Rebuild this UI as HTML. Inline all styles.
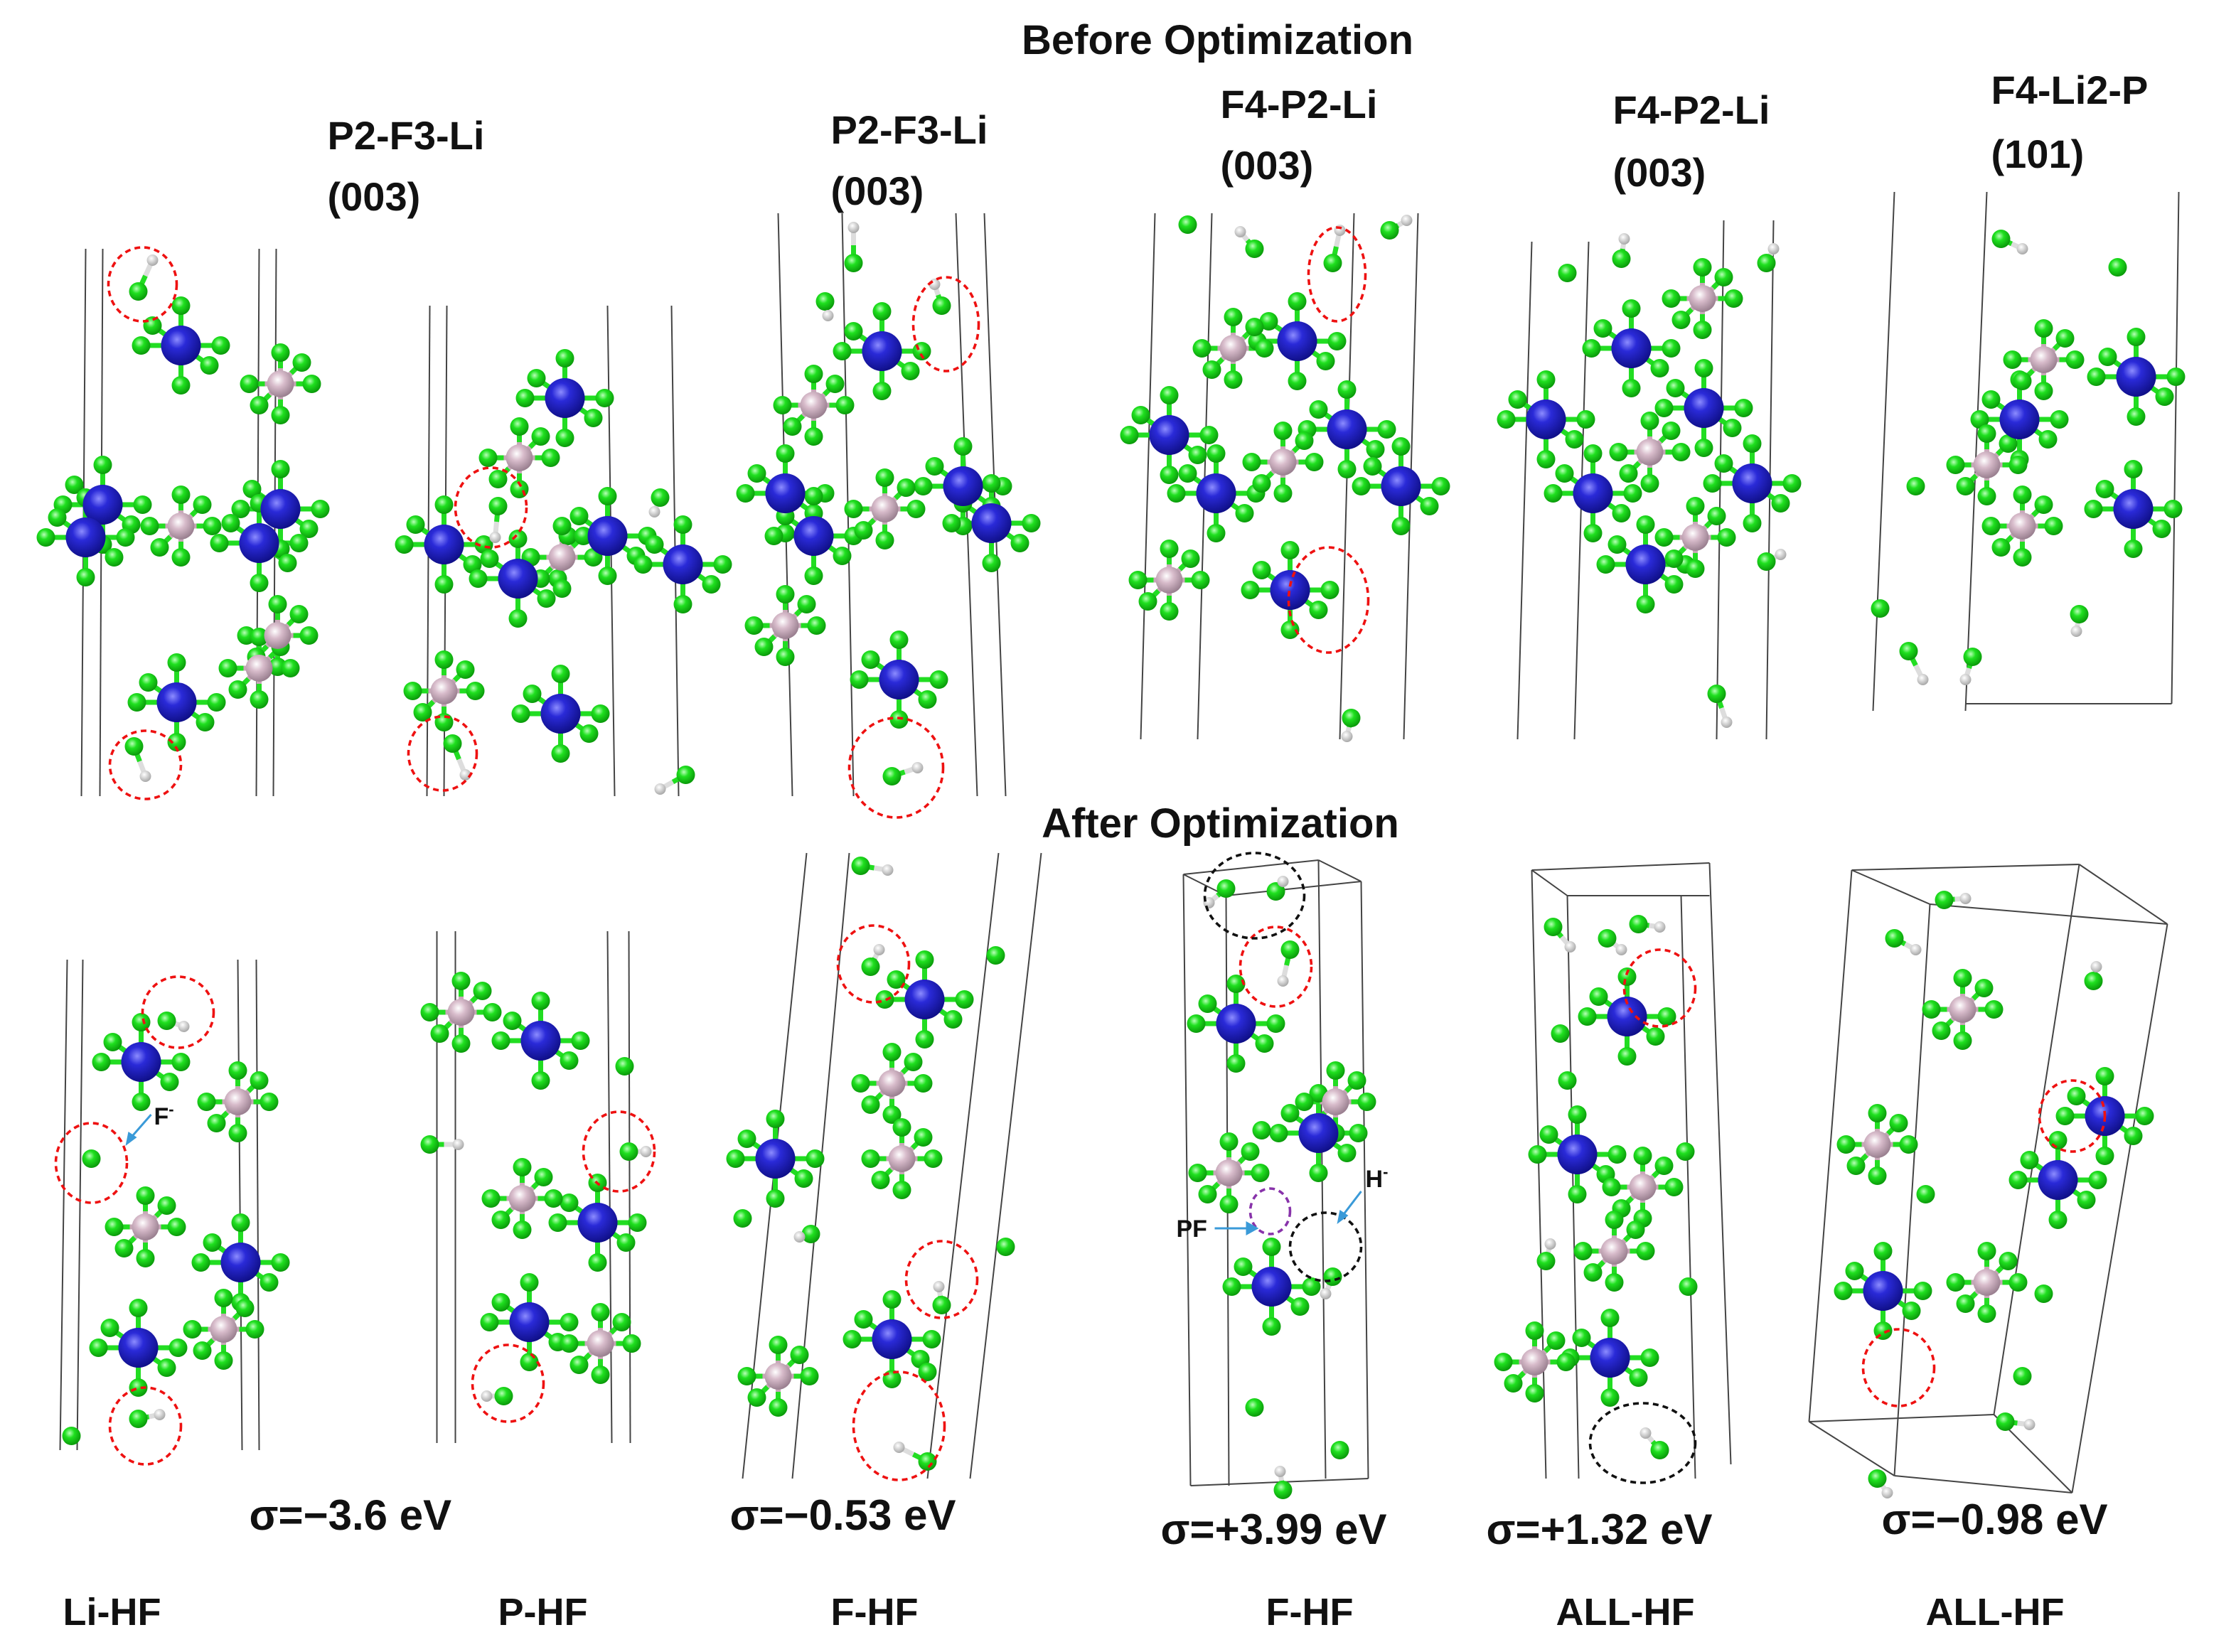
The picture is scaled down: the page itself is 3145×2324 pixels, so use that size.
<!DOCTYPE html>
<html><head><meta charset="utf-8">
<style>
html,body{margin:0;padding:0;background:#fff;}
svg{display:block;}
text{font-family:"Liberation Sans",sans-serif;font-weight:bold;fill:#111;}
</style></head>
<body>
<svg id="fig" width="3145" height="2324" viewBox="0 0 1568 1162" xmlns="http://www.w3.org/2000/svg">
<defs>
<radialGradient id="gBlue" cx="40%" cy="35%" r="65%"><stop offset="0" stop-color="#8c8cff"/><stop offset="0.35" stop-color="#2a2ad8"/><stop offset="1" stop-color="#10108a"/></radialGradient>
<radialGradient id="gPink" cx="40%" cy="35%" r="65%"><stop offset="0" stop-color="#ffffff"/><stop offset="0.4" stop-color="#d8bccb"/><stop offset="1" stop-color="#9a8090"/></radialGradient>
<radialGradient id="gGreen" cx="40%" cy="35%" r="65%"><stop offset="0" stop-color="#b8ffb8"/><stop offset="0.4" stop-color="#1fe01f"/><stop offset="1" stop-color="#0a9a0a"/></radialGradient>
<radialGradient id="gWhite" cx="40%" cy="35%" r="65%"><stop offset="0" stop-color="#ffffff"/><stop offset="1" stop-color="#a8a8a8"/></radialGradient>
</defs>
<g id="lines"></g><g id="bonds"></g><g id="atoms"></g><g id="marks"></g>
<text x="854" y="38" font-size="29" text-anchor="middle">Before Optimization</text>
<text x="856" y="589" font-size="29" text-anchor="middle">After Optimization</text>
<text x="228" y="105" font-size="28">P2-F3-Li</text>
<text x="228" y="148" font-size="28">(003)</text>
<text x="582" y="101" font-size="28">P2-F3-Li</text>
<text x="582" y="144" font-size="28">(003)</text>
<text x="856" y="83" font-size="28">F4-P2-Li</text>
<text x="856" y="126" font-size="28">(003)</text>
<text x="1132" y="87" font-size="28">F4-P2-Li</text>
<text x="1132" y="131" font-size="28">(003)</text>
<text x="1398" y="73" font-size="28">F4-Li2-P</text>
<text x="1398" y="118" font-size="28">(101)</text>
<text x="173" y="1076" font-size="30">σ=−3.6 eV</text>
<text x="511" y="1076" font-size="30">σ=−0.53 eV</text>
<text x="814" y="1086" font-size="30">σ=+3.99 eV</text>
<text x="1043" y="1086" font-size="30">σ=+1.32 eV</text>
<text x="1321" y="1079" font-size="30">σ=−0.98 eV</text>
<text x="42" y="1143" font-size="27">Li-HF</text>
<text x="348" y="1143" font-size="27">P-HF</text>
<text x="582" y="1143" font-size="27">F-HF</text>
<text x="888" y="1143" font-size="27">F-HF</text>
<text x="1092" y="1143" font-size="27">ALL-HF</text>
<text x="1352" y="1143" font-size="27">ALL-HF</text>
<text x="106" y="791" font-size="17">F<tspan dy="-7" font-size="11">-</tspan></text>
<text x="958" y="835" font-size="17">H<tspan dy="-7" font-size="11">-</tspan></text>
<text x="825" y="870" font-size="17">PF</text>
<line x1="104" y1="784" x2="90" y2="800" stroke="#3a9ad8" stroke-width="1.5"/>
<polygon points="86,806 88,796 94,800" fill="#3a9ad8"/>
<line x1="955" y1="838" x2="942" y2="855" stroke="#3a9ad8" stroke-width="1.5"/>
<polygon points="938,861 940,851 946,855" fill="#3a9ad8"/>
<line x1="852" y1="864" x2="876" y2="864" stroke="#3a9ad8" stroke-width="1.5"/>
<polygon points="883,864 874,859 874,869" fill="#3a9ad8"/>
</svg>
<script>
// Cell boundary lines [x1,y1,x2,y2]
const cellLines = [
 [58,175,55,560],[70,175,68,560],[180,175,178,560],[192,175,190,560],
 [300,215,298,560],[312,215,310,560],[425,215,430,560],[470,215,475,560],
 [545,150,555,560],[590,150,598,560],[670,150,685,560],[690,150,705,560],
 [810,150,800,520],[850,150,840,520],[950,150,940,520],[995,150,985,520],
 [1075,170,1065,520],[1115,170,1105,520],[1210,155,1205,520],[1245,155,1240,520],
 [1330,135,1315,500],[1395,135,1380,500],[1530,135,1525,495],[1380,495,1525,495],
 [45,675,40,1020],[56,675,52,1020],[165,675,168,1020],[178,675,180,1020],
 [305,655,305,1015],[318,655,318,1015],[425,655,428,1015],[440,655,441,1015],
 [565,600,520,1040],[595,600,555,1040],[700,600,650,1040],[730,600,680,1040],
 [830,615,835,1045],[860,630,862,1045],[925,605,930,1040],[955,620,960,1040],[830,615,925,605],[925,605,955,620],[955,620,860,630],[860,630,830,615],[835,1045,960,1040],
 [1075,612,1085,1040],[1100,630,1108,1040],[1200,607,1215,1030],[1180,630,1190,1040],[1075,612,1200,607],[1100,630,1200,630],[1075,612,1100,630],
 [1300,612,1460,608],[1460,608,1522,650],[1300,612,1355,636],[1355,636,1522,650],[1300,612,1270,1000],[1355,636,1330,1038],[1460,608,1400,995],[1522,650,1455,1050],[1270,1000,1330,1038],[1330,1038,1455,1050],[1270,1000,1400,995],[1400,995,1455,1050]
];
// Li atoms (blue) centres
const liAtoms = [
 [125,243],[70,355],[58,378],[195,358],[180,382],[122,494],
 [395,280],[310,383],[362,407],[425,377],[478,397],[392,502],
 [618,247],[550,347],[570,377],[675,342],[695,368],[630,478],
 [910,240],[820,306],[853,347],[945,302],[983,342],[905,415],
 [1145,245],[1085,295],[1118,347],[1196,287],[1230,340],[1155,397],
 [1418,295],[1500,265],[1498,358],
 [97,747],[167,888],[95,948],
 [378,732],[418,860],[370,930],
 [648,703],[543,815],[625,942],
 [867,720],[925,797],[892,905],
 [1142,715],[1107,812],[1130,955],
 [1478,785],[1445,830],[1322,908]
];
// P atoms (pink) centres
const pAtoms = [
 [195,270],[125,370],[193,447],[180,470],
 [363,322],[393,392],[310,486],
 [570,285],[620,358],[550,440],
 [865,245],[900,325],[820,408],
 [1195,210],[1158,318],[1190,378],
 [1435,253],[1395,327],[1420,370],
 [165,775],[100,863],[155,935],
 [322,712],[365,843],[420,945],
 [625,762],[632,815],[545,968],
 [937,775],[862,825],
 [1153,835],[1133,880],[1077,958],
 [1378,710],[1318,805],[1395,902]
];
// HF molecules [F x, F y, H x, H y]
const hfMolecules = [
 [95,205,105,183],[92,525,100,546],[348,356,346,378],[462,350,458,360],[316,523,325,545],[480,545,462,555],
 [598,185,598,160],[578,212,580,222],[660,215,655,200],[625,546,643,540],[833,158,0,0],[880,175,870,163],[935,185,940,162],[975,162,987,155],
 [948,505,945,518],[1100,192,0,0],[1138,182,1140,168],[1240,185,1245,175],[1240,395,1250,390],[1205,488,1212,508],
 [1405,168,1420,175],[1487,188,0,0],[1345,342,0,0],[1460,432,1458,444],[1320,428,0,0],[1340,458,1350,478],[1385,462,1380,478],
 [115,718,127,722],[62,815,0,0],[95,998,110,995],[48,1010,0,0],[440,810,452,810],[300,805,320,805],[352,982,340,982],[437,750,0,0],
 [603,609,622,612],[610,680,616,668],[660,918,658,905],[650,1028,630,1018],[698,672,0,0],[705,877,0,0],[520,857,0,0],[568,868,560,870],[650,965,0,0],
 [860,625,848,635],[895,627,900,620],[905,668,900,690],[885,795,0,0],[935,898,930,910],[880,990,0,0],[940,1020,0,0],[900,1048,898,1035],
 [1090,652,1102,666],[1128,660,1138,668],[1150,650,1165,652],[1095,727,0,0],[1100,760,0,0],[1085,887,1088,875],[1185,905,0,0],[1165,1020,1155,1008],[1183,810,0,0],
 [1365,633,1380,632],[1330,660,1345,668],[1470,690,1472,680],[1352,840,0,0],[1435,910,0,0],[1420,968,0,0],[1408,1000,1425,1002],[1318,1040,1325,1050]
];
// Red dashed highlight ellipses [cx,cy,rx,ry]
const redCircles = [
 [98,200,24,26],[100,538,25,24],[343,357,25,28],[309,530,24,26],[663,228,23,33],[628,540,33,35],
 [938,193,20,33],[932,422,28,37],
 [123,712,25,25],[62,818,25,28],[100,1003,25,27],[433,810,25,28],[355,973,25,27],
 [612,678,25,27],[630,1003,32,38],[660,900,25,27],[895,680,25,28],[1165,695,25,27],[1455,785,23,25],[1333,962,25,27]
];
const blackCircles = [[880,630,35,30],[930,877,25,24],[1153,1015,37,28]];
const purpleCircles = [[891,852,14,16]];

const NS='http://www.w3.org/2000/svg';
const gL=document.getElementById('lines'),gB=document.getElementById('bonds'),gA=document.getElementById('atoms'),gM=document.getElementById('marks');
function mk(tag,parent,attrs){const e=document.createElementNS(NS,tag);for(const k in attrs)e.setAttribute(k,attrs[k]);parent.appendChild(e);return e;}
cellLines.forEach(l=>{
 const e=mk('line',gL,{x1:l[0],y1:l[1],x2:l[2],y2:l[3],stroke:'#444','stroke-width':1});
 
 
});
const liOff=[[28,0],[-28,0],[0,-28],[0,28],[20,14],[-20,-14]];
const pOff=[[22,0],[-22,0],[0,-22],[0,22],[15,-15],[-15,15]];
function bond(x1,y1,x2,y2,c1){
 const mx=(x1+x2)/2,my=(y1+y2)/2;
 const a=mk('line',gB,{x1:x1,y1:y1,x2:mx,y2:my,stroke:c1,'stroke-width':3.5});
 
 
 const b=mk('line',gB,{x1:mx,y1:my,x2:x2,y2:y2,stroke:'#22dd22','stroke-width':3.5});
 
 
}
function atom(x,y,r,fill,name){
 const c=mk('circle',gA,{cx:x,cy:y,r:r,fill:fill});
 
 
}
liAtoms.forEach(p=>{liOff.forEach(o=>{bond(p[0],p[1],p[0]+o[0],p[1]+o[1],'#1a1ad0');atom(p[0]+o[0],p[1]+o[1],6.5,'url(#gGreen)','f-atom');});});
pAtoms.forEach(p=>{pOff.forEach(o=>{bond(p[0],p[1],p[0]+o[0],p[1]+o[1],'#c8a8b8');atom(p[0]+o[0],p[1]+o[1],6.5,'url(#gGreen)','f-atom');});});
hfMolecules.forEach(m=>{
 if(m[2]){bond(m[2],m[3],m[0],m[1],'#dddddd');}
 atom(m[0],m[1],6.5,'url(#gGreen)','f-atom');
 if(m[2])atom(m[2],m[3],4,'url(#gWhite)','h-atom');
});
pAtoms.forEach(p=>atom(p[0],p[1],9.5,'url(#gPink)','p-atom'));
liAtoms.forEach(p=>atom(p[0],p[1],14,'url(#gBlue)','li-atom'));
function ell(arr,color,name){arr.forEach(c=>{
 const e=mk('ellipse',gM,{cx:c[0],cy:c[1],rx:c[2],ry:c[3],fill:'none',stroke:color,'stroke-width':1.8,'stroke-dasharray':'4,3'});
 
 
});}
ell(redCircles,'#ee1111','red-highlight-circle');
ell(blackCircles,'#111111','black-highlight-circle');
ell(purpleCircles,'#8833aa','purple-highlight-circle');
</script>
</body></html>
